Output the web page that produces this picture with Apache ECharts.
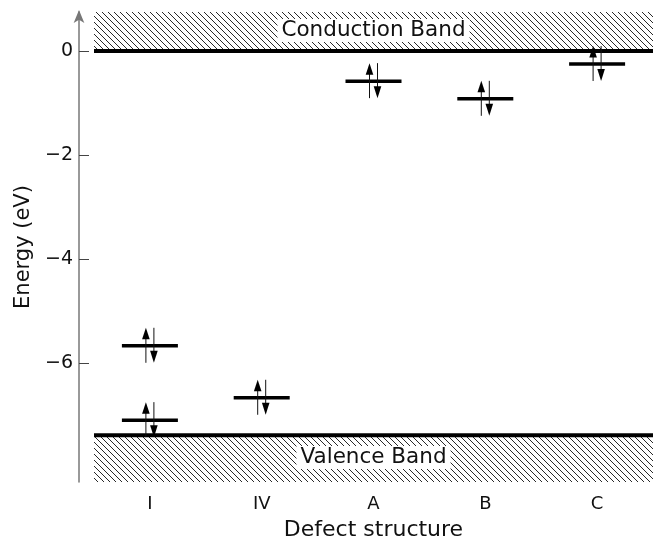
<!DOCTYPE html>
<html>
<head>
<meta charset="utf-8">
<script src="https://cdn.jsdelivr.net/npm/echarts@6/dist/echarts.min.js"></script>
<style>
  html, body { margin: 0; padding: 0; background: #fff; }
  #chart { width: 670px; height: 546px; }
</style>
</head>
<body>
<div id="chart"></div>
<script>
// defect structures on the x axis
var categories = ['I', 'IV', 'A', 'B', 'C'];
// defect levels (eV), one entry per level
var levelCategory = ['I', 'I', 'IV', 'A', 'B', 'C'];
var levelEnergy = [-5.67, -7.10, -6.67, -0.58, -0.92, -0.25];
// bands: edge energy and how far the hatching goes
var bandNames = ['Conduction Band', 'Valence Band'];
var bandEdge = [0, -7.39];
var bandOuter = [0.75, -8.29];
// y axis
var yMin = -8.29, yMax = 0.75;
var yTicks = [-6, -4, -2, 0];

var FONT = '"DejaVu Sans", sans-serif';

// hatch pattern
function makeHatch() {
	var c = document.createElement('canvas');
	var s = 6;
	c.width = s; c.height = s;
	var ctx = c.getContext('2d');
	ctx.fillStyle = '#fff';
	ctx.fillRect(0, 0, s, s);
	ctx.strokeStyle = '#111';
	ctx.lineWidth = 0.9;
	ctx.beginPath();
	ctx.moveTo(-1, -1); ctx.lineTo(s + 1, s + 1);
	ctx.moveTo(-1, s - 1); ctx.lineTo(1, s + 1);
	ctx.moveTo(s - 1, -1); ctx.lineTo(s + 1, 1);
	ctx.stroke();
	return c;
}
var hatch = makeHatch();

var bandData = bandNames.map(function (n, i) { return [bandEdge[i], bandOuter[i], i]; });
var levelData = levelEnergy.map(function (e, i) { return [categories.indexOf(levelCategory[i]), e]; });

function renderBand(params, api) {
	var cs = params.coordSys;
	var yEdge = api.coord([0, api.value(0)])[1];
	var yOut = api.coord([0, api.value(1)])[1];
	var top = Math.min(yEdge, yOut), h = Math.abs(yEdge - yOut);
	var name = bandNames[api.value(2)];
	return {
		type: 'group',
		children: [
			{ type: 'rect', shape: { x: cs.x, y: top, width: cs.width, height: h },
			  style: { fill: { image: hatch, repeat: 'repeat' } } },
			{ type: 'line', shape: { x1: cs.x, y1: yEdge, x2: cs.x + cs.width, y2: yEdge },
			  style: { stroke: '#000', lineWidth: 4 } },
			{ type: 'text', style: { text: name, x: cs.x + cs.width / 2, y: top + h / 2 - 1,
			  align: 'center', verticalAlign: 'middle', font: '21.5px ' + FONT, fill: '#111',
			  backgroundColor: '#fff', padding: [1, 4, 0, 4] } }
		]
	};
}

function renderLevel(params, api) {
	var p = api.coord([api.value(0), api.value(1)]);
	var cx = p[0], cy = p[1];
	var hw = 28;
	return {
		type: 'group',
		children: [
			{ type: 'line', shape: { x1: cx - hw, y1: cy, x2: cx + hw, y2: cy },
			  style: { stroke: '#000', lineWidth: 3.5 } },
			// spin up
			{ type: 'line', shape: { x1: cx - 4, y1: cy + 17, x2: cx - 4, y2: cy - 8 },
			  style: { stroke: '#111', lineWidth: 1 } },
			{ type: 'polygon', shape: { points: [[cx - 4, cy - 18], [cx - 7.8, cy - 6.5], [cx - 0.2, cy - 6.5]] },
			  style: { fill: '#000' } },
			// spin down
			{ type: 'line', shape: { x1: cx + 4, y1: cy - 18, x2: cx + 4, y2: cy + 7 },
			  style: { stroke: '#111', lineWidth: 1 } },
			{ type: 'polygon', shape: { points: [[cx + 4, cy + 17], [cx + 0.2, cy + 5], [cx + 7.8, cy + 5]] },
			  style: { fill: '#000' } }
		]
	};
}

var chart = echarts.init(document.getElementById('chart'));
chart.setOption({
	animation: false,
	grid: { left: 94, right: 17, top: 12, bottom: 64 },
	xAxis: {
		type: 'category',
		data: categories,
		axisLine: { show: false },
		axisTick: { show: false },
		axisLabel: { margin: 13, fontSize: 18, color: '#111', fontFamily: FONT },
		name: 'Defect structure',
		nameLocation: 'middle',
		nameGap: 37,
		nameTextStyle: { fontSize: 22, color: '#111', fontFamily: FONT }
	},
	yAxis: {
		type: 'value',
		min: yMin,
		max: yMax,
		offset: 15,
		splitLine: { show: false },
		axisLine: { show: true, symbol: ['none', 'arrow'], symbolSize: [8, 13], symbolOffset: [0, 2],
		            lineStyle: { color: '#777', width: 1.5 } },
		axisTick: { show: true, inside: true, length: 10, customValues: yTicks, lineStyle: { color: '#444' } },
		axisLabel: { customValues: yTicks, margin: 6, fontSize: 19, color: '#111', fontFamily: FONT,
		             formatter: function (v) { return String(v).replace('-', '\u2212'); } },
		name: 'Energy (eV)',
		nameLocation: 'middle',
		nameGap: 42,
		nameTextStyle: { fontSize: 21, color: '#111', fontFamily: FONT }
	},
	series: [
		{ type: 'custom', name: 'bands', data: bandData, renderItem: renderBand, z: 1, silent: true },
		{ type: 'custom', name: 'levels', data: levelData, renderItem: renderLevel, z: 3, silent: true }
	]
});
</script>
</body>
</html>
